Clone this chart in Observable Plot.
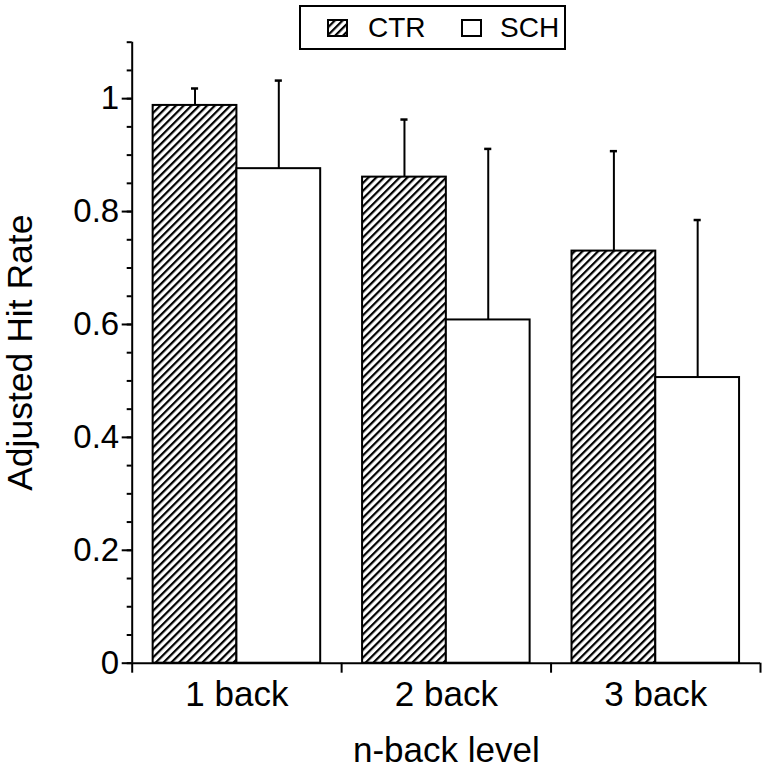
<!DOCTYPE html>
<html>
<head>
<meta charset="utf-8">
<script src="https://cdn.jsdelivr.net/npm/d3@7"></script>
<script src="https://cdn.jsdelivr.net/npm/@observablehq/plot@0.6"></script>
<style>
  body { margin: 0; background: #fff; }
  #wrap { position: relative; width: 763px; height: 768px; font-family: "Liberation Sans", Arial, sans-serif; color: #000; }
  #legend { position: absolute; left: 299px; top: 5px; width: 263px; height: 41px; border: 2px solid #000; background: #fff; }
  #legend .sw { position: absolute; top: 12px; width: 21px; height: 18px; }
  #legend .lab { position: absolute; top: 6px; font-size: 28px; line-height: 30px; }
</style>
</head>
<body>
<div id="wrap">
  <div id="chart"></div>
  <div id="legend"></div>
</div>
<script>
// ---- data ----
const categories = ["1 back", "2 back", "3 back"];
const groups = ["CTR", "SCH"];
const ctrMean = [0.988, 0.861, 0.730];
const ctrErr  = [0.030, 0.102, 0.177];
const schMean = [0.876, 0.608, 0.506];
const schErr  = [0.156, 0.303, 0.279];
const yTicks = [0, 0.2, 0.4, 0.6, 0.8, 1];
const yTickLabels = ["0", "0.2", "0.4", "0.6", "0.8", "1"];
const yMinorTicks = [0, 0.05, 0.1, 0.15, 0.2, 0.25, 0.3, 0.35, 0.4, 0.45, 0.5, 0.55,
                     0.6, 0.65, 0.7, 0.75, 0.8, 0.85, 0.9, 0.95, 1, 1.05, 1.1];
const xBoundaryTicks = [0, 1, 2, 3];
const yTitle = "Adjusted Hit Rate";
const xTitle = "n-back level";

// layout within each category slot (slot = 1 unit)
const barPad = 0.1, barW = 0.4, capHalf = 0.017;

const rows = [];
categories.forEach((c, i) => {
  rows.push({cat: c, i, g: 0, group: groups[0], mean: ctrMean[i], err: ctrErr[i]});
  rows.push({cat: c, i, g: 1, group: groups[1], mean: schMean[i], err: schErr[i]});
});
const cx = d => d.i + barPad + d.g * barW + barW / 2;

const svg = Plot.plot({
  width: 763,
  height: 768,
  marginLeft: 131.7,
  marginRight: 3,
  marginTop: 41.7,
  marginBottom: 105.3,
  style: {fontFamily: "Liberation Sans, Arial, sans-serif", background: "white", color: "black"},
  x: {type: "linear", domain: [0, 3], axis: null},
  y: {domain: [0, 1.1], axis: null},
  marks: [
    Plot.rectY(rows, {
      x1: d => d.i + barPad + d.g * barW,
      x2: d => d.i + barPad + (d.g + 1) * barW,
      y1: 0, y2: "mean",
      fill: d => d.group === "CTR" ? "url(#hatch)" : "white",
      stroke: "black", strokeWidth: 2
    }),
    Plot.ruleX(rows, {x: cx, y1: "mean", y2: d => d.mean + d.err, stroke: "black", strokeWidth: 2}),
    Plot.ruleY(rows, {x1: d => cx(d) - capHalf, x2: d => cx(d) + capHalf, y: d => d.mean + d.err, stroke: "black", strokeWidth: 2.5}),
    Plot.ruleX([0], {y1: 0, y2: 1.1, stroke: "black", strokeWidth: 2}),
    Plot.ruleY([0], {x1: 0, x2: 3, stroke: "black", strokeWidth: 2}),
    Plot.axisY(yMinorTicks, {tickSize: 5, text: null, label: null, strokeWidth: 2}),
    Plot.axisY(yTicks, {tickSize: 10, tickPadding: 3, strokeWidth: 2, fontSize: 33, label: null,
      tickFormat: d => yTickLabels[yTicks.indexOf(d)]}),
    Plot.axisX(xBoundaryTicks, {tickSize: 10, text: null, label: null, strokeWidth: 2}),
    Plot.text(categories, {x: (d, i) => i + 0.5, frameAnchor: "bottom", dy: 32, lineAnchor: "middle", fontSize: 35, fill: "black"}),
    Plot.text([xTitle], {frameAnchor: "bottom", dy: 88, lineAnchor: "middle", fontSize: 35, fill: "black"}),
    Plot.text([yTitle], {frameAnchor: "left", dx: -112, rotate: -90, textAnchor: "middle", lineAnchor: "middle", fontSize: 35.5, fill: "black"})
  ]
});

// hatch pattern
const defs = d3.select(svg).insert("defs", ":first-child");
const pat = defs.append("pattern")
  .attr("id", "hatch")
  .attr("patternUnits", "userSpaceOnUse")
  .attr("width", 5.5).attr("height", 10)
  .attr("patternTransform", "rotate(45)");
pat.append("rect").attr("width", 5.5).attr("height", 10).attr("fill", "white");
pat.append("rect").attr("width", 2.2).attr("height", 10).attr("fill", "black");

document.getElementById("chart").appendChild(svg);

// legend
const legend = d3.select("#legend");
const items = [
  {label: groups[0], fill: "url(#hatch)", swX: 26, labX: 67},
  {label: groups[1], fill: "white", swX: 160, labX: 199}
];
items.forEach(it => {
  const s = legend.append("svg").attr("class", "sw")
    .style("left", it.swX + "px").attr("width", 21).attr("height", 18);
  s.append("rect").attr("x", 1).attr("y", 1).attr("width", 19).attr("height", 16)
    .attr("fill", it.fill).attr("stroke", "black").attr("stroke-width", 2);
  legend.append("div").attr("class", "lab").style("left", it.labX + "px").text(it.label);
});
</script>
</body>
</html>
